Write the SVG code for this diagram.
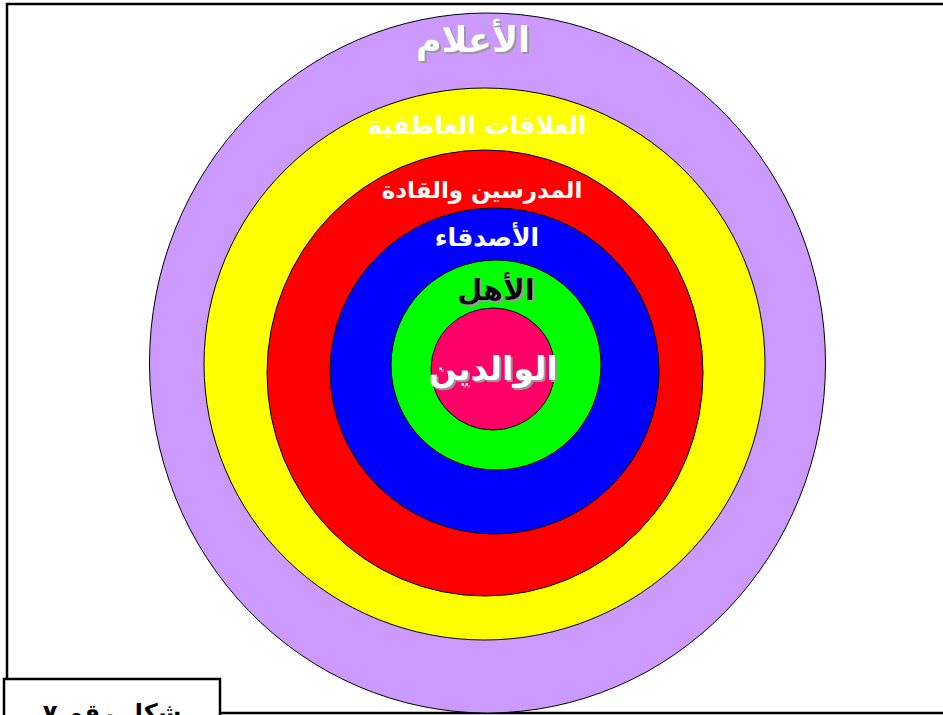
<svg xmlns="http://www.w3.org/2000/svg" width="943" height="715" viewBox="0 0 943 715">
<style>
.ring{stroke:#000;stroke-width:1}
.lbl{font-family:"DejaVu Sans",sans-serif;font-weight:bold;text-anchor:middle}
.w{fill:#fff}
.frame{fill:none;stroke:#000;stroke-width:2.5}
</style>
<defs>
<filter id="sh" x="-20%" y="-30%" width="140%" height="160%">
<feDropShadow dx="2" dy="2" stdDeviation="0.6" flood-color="#999" flood-opacity="1"/>
</filter>
</defs>
<rect width="943" height="715" fill="#fff"/>
<path class="frame" d="M7,680 V4 H943"/>
<path class="frame" d="M220,713 H943"/>
<g id="ring-alalam"><ellipse class="ring" cx="487.5" cy="363" rx="338" ry="350" fill="#CC99FF"/></g>
<g id="ring-alaqat"><ellipse class="ring" cx="484.5" cy="364" rx="280.5" ry="276" fill="#FFFF00"/></g>
<g id="ring-mudarisin"><ellipse class="ring" cx="485" cy="373" rx="218" ry="223" fill="#FF0000"/></g>
<g id="ring-asdiqa"><ellipse class="ring" cx="494.5" cy="371" rx="164.5" ry="163" fill="#0000FF"/></g>
<g id="ring-ahl"><ellipse class="ring" cx="496" cy="365" rx="105" ry="105" fill="#00FF00"/></g>
<g id="ring-walidayn"><ellipse class="ring" cx="493" cy="369" rx="62" ry="61" fill="#FF0066"/></g>
<g id="labels">
<text class="lbl w" x="473" y="52" font-size="35" filter="url(#sh)" direction="rtl">الأعلام</text>
<text class="lbl w" x="477" y="134" font-size="25" direction="rtl">العلاقات العاطفية</text>
<text class="lbl w" x="482" y="198" font-size="23" direction="rtl">المدرسين والقادة</text>
<text class="lbl w" x="487" y="246" font-size="25" direction="rtl">الأصدقاء</text>
<text class="lbl" x="496" y="300" font-size="29" fill="#000" filter="url(#sh)" direction="rtl">الأهل</text>
<text class="lbl w" x="493" y="380" font-size="33" filter="url(#sh)" direction="rtl">الوالدين</text>
</g>
<g id="caption">
<rect x="4" y="679" width="216" height="50" fill="#fff" stroke="#000" stroke-width="2.5"/>
<text class="lbl" x="112" y="721" font-size="24" fill="#000" direction="rtl">شكل رقم ٧</text>
</g>
</svg>
